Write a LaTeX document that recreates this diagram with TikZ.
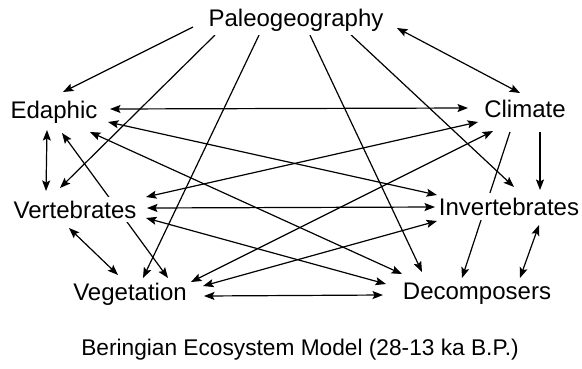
\documentclass[tikz,border=0pt]{standalone}
\usepackage{fontspec}
\setmainfont{Liberation Sans}
\usetikzlibrary{arrows.meta}
\pgfdeclarelayer{edges}
\pgfsetlayers{edges,main}
\tikzset{
  lbl/.style={anchor=base, inner xsep=1pt, inner ysep=4pt, fill=white, font=\fontsize{24}{28}\selectfont},
  ttl/.style={anchor=base, inner sep=0pt, font=\fontsize{22.7}{27}\selectfont},
  one/.style={line width=1.2pt, -{Stealth[length=10.5pt,width=8pt,inset=2pt]}},
  two/.style={line width=1.2pt, {Stealth[length=10.5pt,width=8pt,inset=2pt]}-{Stealth[length=10.5pt,width=8pt,inset=2pt]}}
}
\begin{document}
\begin{tikzpicture}[x=1pt,y=-1pt]
\useasboundingbox (0,0) rectangle (582,368);
\node[lbl] (paleo) at (296,26) {Paleogeography};
\node[lbl] (edaph) at (54,118) {Edaphic};
\node[lbl] (clim) at (525,117) {Climate};
\node[lbl] (vert) at (75,218) {Vertebrates};
\node[lbl,inner ysep=5pt] (inv) at (509,215) {Invertebrates};
\node[lbl] (veg) at (130,300) {Vegetation};
\node[lbl] (dec) at (477,299) {Decomposers};
\node[ttl] (title) at (300,355) {Beringian Ecosystem Model (28-13 ka B.P.)};
\begin{pgfonlayer}{edges}
% from Paleogeography
\draw[one] ([shift={(-103,1)}]paleo.base) -- ([shift={(9,-26)}]edaph.base);
\draw[one] ([shift={(-81,9)}]paleo.base) -- ([shift={(-15,-30)}]vert.base);
\draw[one] ([shift={(-36,7)}]paleo.base) -- ([shift={(13,-22)}]veg.base);
\draw[one] ([shift={(13,7)}]paleo.base) -- ([shift={(-55,-27)}]dec.base);
\draw[one] ([shift={(53,7)}]paleo.base) -- ([shift={(5,-28)}]inv.base);
\draw[two] ([shift={(101,2)}]paleo.base) -- ([shift={(-5,-24)}]clim.base);
% from Climate
\draw[one] ([shift={(15,15)}]clim.base) -- ([shift={(31,-25)}]inv.base);
\draw[one] ([shift={(-15,15)}]clim.base) -- ([shift={(-15,-21)}]dec.base);
% from Edaphic
\draw[two] ([shift={(56,-9)}]edaph.base) -- ([shift={(-57,-9)}]clim.base);
\draw[two] ([shift={(54,4)}]edaph.base) -- ([shift={(-72,-20)}]inv.base);
\draw[two] ([shift={(36,14)}]edaph.base) -- ([shift={(-75,-25)}]dec.base);
\draw[two] ([shift={(8,15)}]edaph.base) -- ([shift={(38,-22)}]veg.base);
\draw[two] ([shift={(-7,12)}]edaph.base) -- ([shift={(-29,-27)}]vert.base);
% from Vertebrates
\draw[two] ([shift={(-6,10)}]vert.base) -- ([shift={(-12,-25)}]veg.base);
\draw[two] ([shift={(71,-21)}]vert.base) -- ([shift={(-47,5)}]clim.base);
\draw[two] ([shift={(72,-10)}]vert.base) -- ([shift={(-74,-8)}]inv.base);
\draw[two] ([shift={(71,0)}]vert.base) -- ([shift={(-91,-15)}]dec.base);
% from Vegetation
\draw[two] ([shift={(61,-18)}]veg.base) -- ([shift={(-32,14)}]clim.base);
\draw[two] ([shift={(73,-14)}]veg.base) -- ([shift={(-72,6)}]inv.base);
\draw[two] ([shift={(74,-4)}]veg.base) -- ([shift={(-94,-4)}]dec.base);
% Invertebrates - Decomposers
\draw[two] ([shift={(30,10)}]inv.base) -- ([shift={(43,-21)}]dec.base);
\end{pgfonlayer}
\end{tikzpicture}
\end{document}
